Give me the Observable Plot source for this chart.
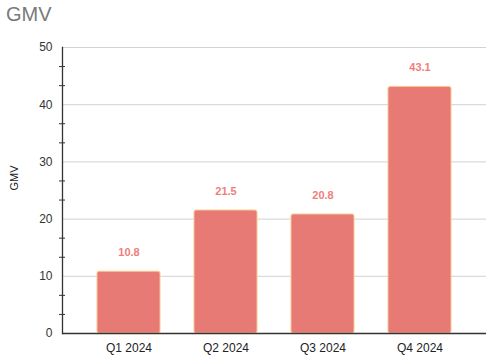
<!DOCTYPE html>
<html>
<head>
<meta charset="utf-8">
<script src="https://cdn.jsdelivr.net/npm/d3@7"></script>
<script src="https://cdn.jsdelivr.net/npm/@observablehq/plot@0.6"></script>
<style>
  body { margin: 0; background: #fff; font-family: "Liberation Sans", Arial, sans-serif; }
  #title { position: absolute; left: 6px; top: 3px; font-size: 20px; color: #7a7a7a; }
  #chart { position: absolute; left: 0; top: 30px; }
</style>
</head>
<body>
<div id="title">GMV</div>
<div id="chart"></div>
<script>
const quarters = ["Q1 2024", "Q2 2024", "Q3 2024", "Q4 2024"];
const gmv = [10.8, 21.5, 20.8, 43.1];
const majorTicks = [0, 10, 20, 30, 40, 50];
const minorTicks = [3.33, 6.67, 13.33, 16.67, 23.33, 26.67, 33.33, 36.67, 43.33, 46.67];

const data = quarters.map((q, i) => ({ q, v: gmv[i] }));

const chart = Plot.plot({
  width: 487,
  height: 325,
  marginLeft: 62,
  marginRight: 1,
  marginTop: 17,
  marginBottom: 22,
  style: { fontFamily: "Liberation Sans, Arial, sans-serif", fontSize: "12px", color: "#333" },
  x: { domain: quarters, paddingInner: 0.35, paddingOuter: 0.36, label: null },
  y: { domain: [0, 50], label: null },
  marks: [
    Plot.gridY(majorTicks, { stroke: "#d2d2d2", strokeOpacity: 1 }),
    Plot.axisY({ ticks: majorTicks, tickSize: 0, tickPadding: 10, fontSize: 12, fill: "#333" }),
    Plot.axisY({ ticks: minorTicks, tickSize: 3, text: null, stroke: "#333" }),
    Plot.axisY({ ticks: minorTicks, tickSize: -3, text: null, stroke: "#333" }),
    Plot.axisX({ tickSize: 0, tickPadding: 10, fontSize: 12, fill: "#222" }),
    Plot.barY(data, { x: "q", y: "v", fill: "#e87a76", stroke: "#f8c890", strokeWidth: 1, rx: 2 }),
    Plot.text(data, { x: "q", y: "v", text: d => d.v.toFixed(1), dy: -19, fill: "#ef7e7a", fontWeight: "bold", fontSize: 11 }),
    Plot.ruleY([0], { stroke: "#333", strokeWidth: 1.3 }),
    Plot.frame({ anchor: "left", stroke: "#333", strokeWidth: 1.3 }),
    Plot.text(["GMV"], { frameAnchor: "left", dx: -48, rotate: -90, fontSize: 11, fill: "#222" })
  ]
});
document.getElementById("chart").appendChild(chart);
</script>
</body>
</html>
